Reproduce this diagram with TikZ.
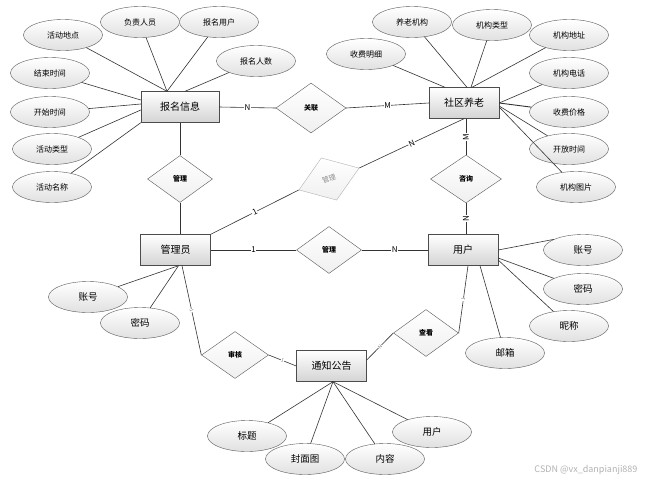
\documentclass[tikz,border=0pt]{standalone}
\usepackage{fontspec}
\setmainfont{Noto Sans CJK SC}
\usetikzlibrary{shapes.geometric,calc}
\begin{document}
\begin{tikzpicture}[x=1pt,y=-1pt,
 ent/.style={draw=black!70, top color=white, bottom color=black!17, minimum width=70pt, minimum height=31pt, inner sep=0pt, font=\fontsize{10}{11}\selectfont},
 attr/.style={ellipse, draw=black!65, top color=white, bottom color=black!12, minimum width=79pt, minimum height=31pt, inner sep=0pt, font=\fontsize{8}{9}\selectfont},
 attrb/.style={attr, font=\fontsize{9.5}{10}\selectfont},
 rel/.style={diamond, draw=black!65, top color=white, bottom color=black!6, minimum width=65pt, minimum height=47pt, inner sep=0pt, font=\fontsize{7}{8}\selectfont\bfseries},
 ln/.style={draw=black!80, line width=0.6pt},
 lab/.style={fill=white, inner sep=0.6pt, font=\fontsize{8}{9}\selectfont},
 tlab/.style={fill=white, inner sep=0.3pt, text=black!50, font=\fontsize{5}{6}\selectfont},
]
\useasboundingbox (0,0) rectangle (651,485);
\fill[white] (0,0) rectangle (651,485);

% entities
\node[ent, minimum width=78pt] (bm) at (180,107) {报名信息};
\node[ent] (sq) at (464,103) {社区养老};
\node[ent] (gly) at (175.5,250) {管理员};
\node[ent] (yh) at (463,250) {用户};
\node[ent] (tz) at (331.5,366) {通知公告};

% relations
\node[rel, minimum width=70pt, minimum height=50pt] (gl) at (311,108) {关联};
\node[rel] (gl1) at (180,179) {管理};
\node[rel, minimum width=71pt, minimum height=48pt] (zx) at (466,179) {咨询};
\node[rel] (gl2) at (329,250) {管理};
\node[rel, minimum width=67pt] (sh) at (235,355) {审核};
\node[rel] (ck) at (426,333) {查看};
\node[rel, draw=black!30, text=black!45, rotate=20, minimum width=64pt, minimum height=45pt, font=\fontsize{7}{8}\selectfont] (fd) at (329,179) {管理};

% attributes of 报名信息
\node[attr] (a1) at (63,35) {活动地点};
\node[attr] (a2) at (140,22) {负责人员};
\node[attr] (a3) at (219,22) {报名用户};
\node[attr] (a4) at (256,61) {报名人数};
\node[attr] (a5) at (50,73) {结束时间};
\node[attr] (a6) at (50,112) {开始时间};
\node[attr] (a7) at (52,149) {活动类型};
\node[attr] (a8) at (52,187) {活动名称};

% attributes of 社区养老
\node[attr] (b1) at (412,22) {养老机构};
\node[attr] (b2) at (492,25) {机构类型};
\node[attr] (b3) at (569,35) {机构地址};
\node[attr] (b4) at (366,54) {收费明细};
\node[attr] (b5) at (569,73) {机构电话};
\node[attr] (b6) at (569,112) {收费价格};
\node[attr] (b7) at (569,149) {开放时间};
\node[attr] (b8) at (576,187) {机构图片};

% attributes of 用户
\node[attrb] (c1) at (583,250) {账号};
\node[attrb] (c2) at (583,289) {密码};
\node[attrb] (c3) at (569,326) {昵称};
\node[attrb] (c4) at (505,353) {邮箱};

% attributes of 管理员
\node[attrb] (d1) at (88,297) {账号};
\node[attrb] (d2) at (140,323) {密码};

% attributes of 通知公告
\node[attrb] (e1) at (247,436) {标题};
\node[attrb] (e2) at (305,459) {封面图};
\node[attrb] (e3) at (385,459) {内容};
\node[attrb] (e4) at (432,432) {用户};

% attribute connectors
\foreach \a in {a1,a2,a3} \draw[ln] (\a) -- ([xshift=-13pt]bm.north);
\draw[ln] (a4) -- ([xshift=5pt]bm.north);
\draw[ln] (a5) -- ([yshift=7pt]bm.west);
\draw[ln] (a6) -- ([yshift=3pt]bm.west);
\draw[ln] (a7) -- ([yshift=-3pt]bm.west);
\draw[ln] (a8) -- (bm.south west);

\draw[ln] (b1) -- ([xshift=3pt]sq.north);
\draw[ln] (b2) -- ([xshift=7pt]sq.north);
\draw[ln] (b3) -- ([xshift=8pt]sq.north);
\draw[ln] (b4) -- ([xshift=-19pt]sq.north);
\draw[ln] (b5) -- (sq.east);
\draw[ln, line width=0.9pt] (b6) -- (sq.east);
\draw[ln] (b7) -- ([yshift=-3pt]sq.east);
\draw[ln] (b8) -- ([yshift=-4pt]sq.east);

\draw[ln] (c1.160) -- (yh.east);
\draw[ln] (c2) -- ([yshift=-8pt]yh.east);
\draw[ln] (c3) -- ([yshift=-10pt]yh.east);
\draw[ln] (c4) -- ([xshift=17pt]yh.south);

\draw[ln] (d1) -- ([xshift=3pt]gly.south);
\draw[ln] (d2) -- ([xshift=3pt]gly.south);

\foreach \e in {e1,e2,e3,e4} \draw[ln] (\e) -- ([xshift=1.5pt]tz.south);

% relationship connectors
\draw[ln] (bm.east) -- node[lab]{N} (gl.west);
\draw[ln] (gl.east) -- node[lab]{M} (sq.west);
\draw[ln] (bm.south) -- (gl1.north);
\draw[ln] (gl1.south) -- (gl1.south |- gly.north);
\draw[ln] (sq.south -| zx.north) -- node[lab, rotate=90]{M} (zx.north);
\draw[ln] (zx.south) -- node[lab, rotate=90]{N} (zx.south |- yh.north);
\draw[ln] (gly.east) -- node[lab]{1} (gl2.west);
\draw[ln] (gl2.east) -- node[lab]{N} (yh.west);
\draw[ln] (gly.north east) -- node[lab, sloped]{1} (fd.west);
\draw[ln] (fd.east) -- node[lab, sloped]{N} (sq.south);
\draw[ln] ([xshift=6.5pt]gly.south) -- node[tlab, sloped]{1} (sh.west);
\draw[ln] (sh.east) -- node[tlab, sloped]{1} (tz.west);
\draw[ln] (ck.east) -- node[tlab, sloped]{1} ([xshift=5pt]yh.south);
\draw[ln] ([yshift=6pt]tz.east) -- node[tlab, sloped]{N} (ck.west);

% watermark
\node[text=black!30, anchor=east, font=\fontsize{9}{10}\selectfont] (wm) at (641,470) {CSDN @vx\_danpianji889};
\end{tikzpicture}
\end{document}
